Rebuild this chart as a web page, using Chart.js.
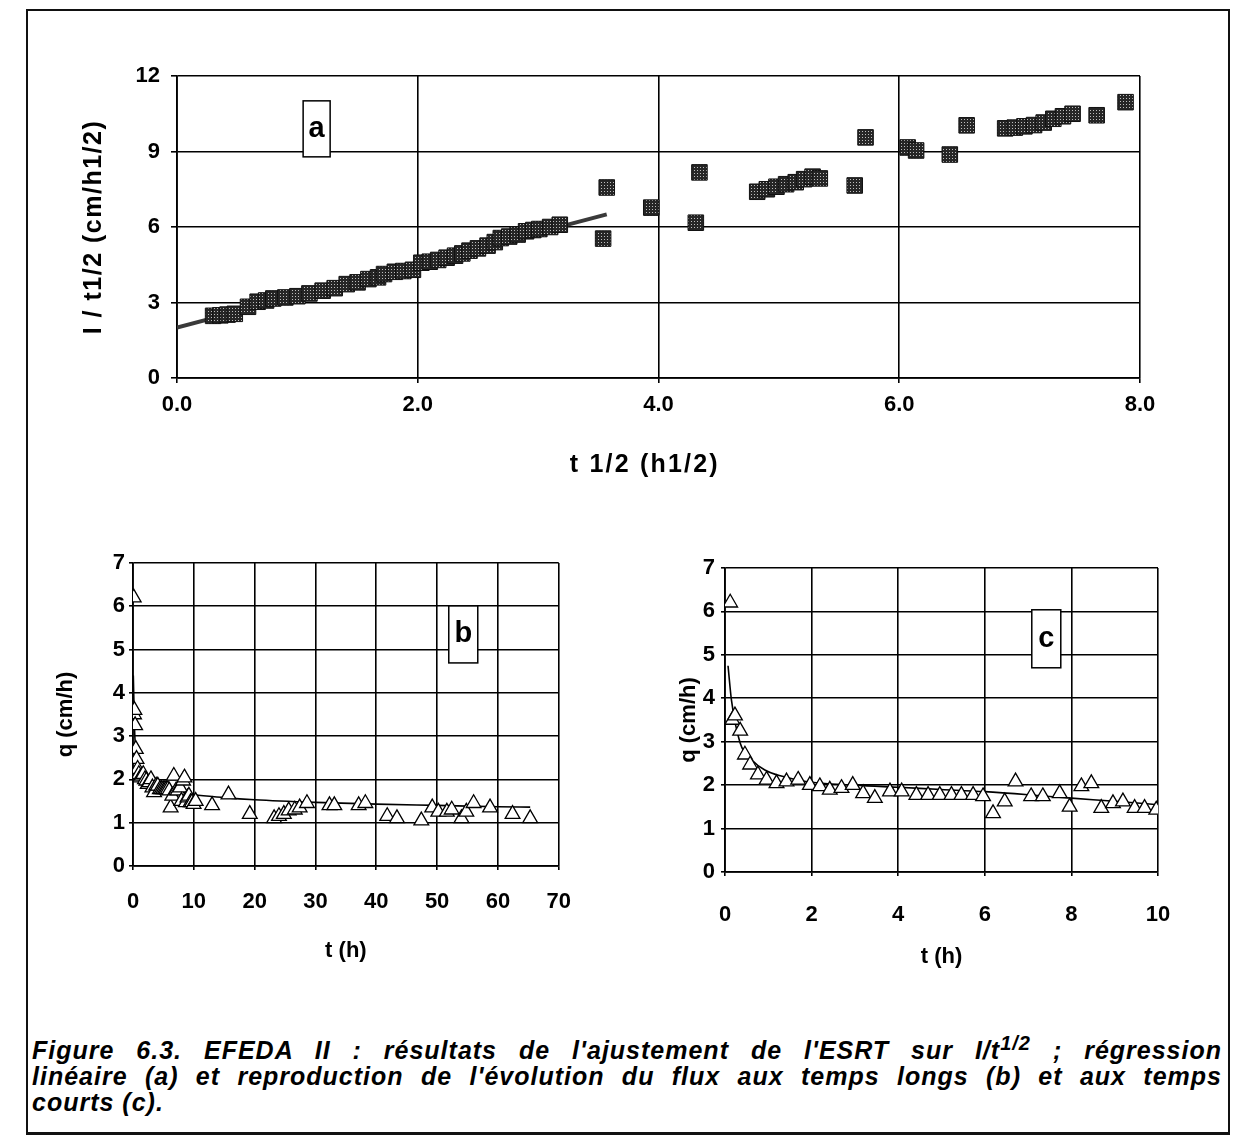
<!DOCTYPE html>
<html>
<head>
<meta charset="utf-8">
<script src="https://cdn.jsdelivr.net/npm/chart.js@4.4.1/dist/chart.umd.min.js"></script>
<style>
  html, body { margin: 0; padding: 0; background: #fff; }
  body { width: 1233px; height: 1141px; position: relative; overflow: hidden; }
  #frame { position: absolute; left: 26px; top: 9px; width: 1204px; height: 1126px;
           box-sizing: border-box; border: 2px solid #111; border-bottom-width: 3px; }
  canvas { position: absolute; }
  #caption { position: absolute; left: 32px; top: 1037px; width: 1190px; color: #000;
             font: italic bold 25px/26px "Liberation Sans", Arial, sans-serif; letter-spacing: 1px; }
  #caption div { white-space: nowrap; }
  #caption .j { text-align: justify; text-align-last: justify; }
  #caption sup { font-size: 20px; line-height: 0; vertical-align: 9px; }
</style>
</head>
<body>
<div id="frame"></div>
<canvas id="chartA" width="1170" height="450" style="left:30px;top:40px"></canvas>
<canvas id="chartB" width="560" height="430" style="left:30px;top:540px"></canvas>
<canvas id="chartC" width="590" height="440" style="left:620px;top:540px"></canvas>
<div id="caption">
  <div class="j">Figure 6.3. EFEDA II : résultats de l'ajustement de l'ESRT sur I/t<sup>1/2</sup> ; régression</div>
  <div class="j">linéaire (a) et reproduction de l'évolution du flux aux temps longs (b) et aux temps</div>
  <div>courts (c).</div>
</div>
<script>
const FONT = '"Liberation Sans", Arial, sans-serif';

// (a) I / t^1/2 against t^1/2
const aT = [0.30, 0.36, 0.42, 0.48, 0.59, 0.67, 0.74, 0.80, 0.90, 1.00, 1.10, 1.21, 1.31, 1.41,
            1.50, 1.59, 1.67, 1.72, 1.81, 1.88, 1.96, 2.03, 2.10, 2.17, 2.24, 2.31, 2.37, 2.43,
            2.50, 2.58, 2.64, 2.69, 2.76, 2.83, 2.90, 2.96, 3.01, 3.10, 3.18,
            3.54, 3.57, 3.94, 4.31, 4.34, 4.82, 4.90, 4.98, 5.06, 5.14, 5.21, 5.28, 5.34,
            5.63, 5.72, 6.07, 6.14, 6.42, 6.56, 6.88, 6.96, 7.04, 7.12, 7.20, 7.28, 7.36, 7.44,
            7.64, 7.88, 8.12];
const aVal = [2.47, 2.49, 2.52, 2.55, 2.83, 3.03, 3.08, 3.16, 3.20, 3.25, 3.36, 3.47, 3.57, 3.73,
              3.80, 3.93, 4.00, 4.13, 4.22, 4.25, 4.30, 4.58, 4.62, 4.69, 4.78, 4.86, 4.95, 5.06,
              5.15, 5.26, 5.40, 5.56, 5.62, 5.70, 5.83, 5.88, 5.92, 6.00, 6.09,
              5.54, 7.57, 6.77, 6.17, 8.17, 7.40, 7.50, 7.60, 7.70, 7.78, 7.90, 8.00, 7.93,
              7.65, 9.56, 9.16, 9.04, 8.88, 10.04, 9.92, 9.95, 10.00, 10.05, 10.15, 10.30, 10.40, 10.50,
              10.44, 10.96, 11.70];
const aFitT = [0, 3.57];
const aFitVal = [2.0, 6.5];
const aXTicks = [0, 2, 4, 6, 8];
const aYTicks = [0, 3, 6, 9, 12];

// (c) first 10 h of flux q, also the start of (b)
const shortT = [0.12, 0.17, 0.23, 0.35, 0.46, 0.58, 0.76, 0.96, 1.19, 1.42, 1.69, 1.96, 2.19, 2.42,
                2.69, 2.95, 3.19, 3.46, 3.81, 4.08, 4.42, 4.69, 4.96, 5.23, 5.46, 5.73, 5.96, 6.19,
                6.46, 6.71, 7.07, 7.34, 7.73, 7.96, 8.23, 8.46, 8.69, 8.96, 9.19, 9.46, 9.69, 9.96];
const shortQ = [6.20, 3.50, 3.60, 3.25, 2.70, 2.47, 2.24, 2.12, 2.04, 2.08, 2.12, 2.00, 1.97, 1.89,
                1.93, 2.00, 1.81, 1.70, 1.85, 1.85, 1.77, 1.77, 1.77, 1.77, 1.77, 1.77, 1.74, 1.35,
                1.62, 2.08, 1.74, 1.74, 1.81, 1.50, 1.97, 2.04, 1.47, 1.58, 1.62, 1.47, 1.47, 1.43];
// (b) later points, t > 10 h
const longT = [10.3, 13.0, 15.7, 19.2, 23.2, 24.0, 24.8, 25.6, 26.6, 27.4, 28.6, 32.3, 33.1, 37.1,
               38.2, 41.8, 43.4, 47.4, 49.2, 50.2, 51.6, 52.4, 54.0, 54.8, 56.0, 58.7, 62.4, 65.3];
const longQ = [1.50, 1.40, 1.65, 1.20, 1.10, 1.15, 1.20, 1.28, 1.30, 1.35, 1.45, 1.40, 1.40, 1.40,
               1.45, 1.15, 1.10, 1.05, 1.35, 1.25, 1.25, 1.30, 1.10, 1.25, 1.45, 1.35, 1.20, 1.10];

const bFitT = [0.05, 0.3, 0.7, 1.5, 3, 5, 7, 10, 15, 20, 30, 40, 50, 60, 65.3];
const bFitQ = [4.40, 3.00, 2.50, 2.15, 1.95, 1.82, 1.75, 1.65, 1.58, 1.53, 1.47, 1.43, 1.40, 1.37, 1.36];
const cFitT = [0.07, 0.15, 0.35, 0.62, 0.92, 1.3, 1.9, 3, 4, 5, 6, 7, 8, 9, 10];
const cFitQ = [4.75, 3.95, 2.97, 2.58, 2.35, 2.21, 2.08, 2.00, 1.95, 1.90, 1.85, 1.78, 1.70, 1.63, 1.55];

const bXTicks = [0, 10, 20, 30, 40, 50, 60, 70];
const cXTicks = [0, 2, 4, 6, 8, 10];
const qYTicks = [0, 1, 2, 3, 4, 5, 6, 7];

function pts(xs, ys) {
  return xs.map((x, i) => ({ x: x, y: ys[i] }));
}

// dark halftone fill like the printed squares
function speckle() {
  const c = document.createElement("canvas");
  c.width = 3; c.height = 3;
  const g = c.getContext("2d");
  g.fillStyle = "#262626"; g.fillRect(0, 0, 3, 3);
  g.fillStyle = "#bdbdbd"; g.fillRect(1, 1, 1, 1);
  return g.createPattern(c, "repeat");
}

const baseDrawTitle = Chart.LinearScale.prototype.drawTitle;

function axis(ticks, o) {
  return {
    type: "linear",
    min: ticks[0],
    max: ticks[ticks.length - 1],
    afterBuildTicks: s => { s.ticks = ticks.map(v => ({ value: v })); },
    afterFit: s => {
      if (s.isHorizontal()) s.height = o.size; else s.width = o.size;
      if (o.spacing) {
        // the scanned titles are set wider than the tick labels
        s.drawTitle = function () {
          this.ctx.save();
          this.ctx.letterSpacing = o.spacing;
          baseDrawTitle.call(this);
          this.ctx.restore();
        };
      }
    },
    grid: { color: "#000", lineWidth: 1.6, tickLength: o.tick, tickColor: "#000" },
    border: { color: "#000", width: 1.8 },
    ticks: {
      color: "#000", padding: o.pad,
      font: { family: FONT, size: 22, weight: "bold" },
      callback: o.fmt || (v => v)
    },
    title: {
      display: true, text: o.title, color: "#000", padding: o.titlePad,
      font: { family: FONT, size: o.titleSize || 22, weight: "bold" }
    }
  };
}

const panelLabel = {
  id: "panelLabel",
  beforeDatasetsDraw(chart, args, opts) {
    const { ctx, scales } = chart;
    const cx = scales.x.getPixelForValue(opts.x);
    const cy = scales.y.getPixelForValue(opts.y);
    ctx.save();
    ctx.fillStyle = "#fff";
    ctx.fillRect(cx - opts.w / 2, cy - opts.h / 2, opts.w, opts.h);
    ctx.strokeStyle = "#000";
    ctx.lineWidth = 1.5;
    ctx.strokeRect(cx - opts.w / 2, cy - opts.h / 2, opts.w, opts.h);
    ctx.fillStyle = "#000";
    ctx.font = "bold 29px " + FONT;
    ctx.textAlign = "center";
    ctx.textBaseline = "middle";
    ctx.fillText(opts.text, cx, cy);
    ctx.restore();
  }
};
Chart.register(panelLabel);

const common = {
  responsive: false,
  animation: false,
  events: [],
  plugins: { legend: { display: false }, tooltip: { enabled: false } }
};

new Chart(document.getElementById("chartA"), {
  type: "scatter",
  data: {
    datasets: [
      {
        data: pts(aT, aVal),
        pointStyle: "rect", pointRadius: 11,
        backgroundColor: speckle(), borderColor: "#111", borderWidth: 1,
        clip: { left: 10, top: 10, right: 10, bottom: 10 },
        order: 0
      },
      {
        data: pts(aFitT, aFitVal),
        showLine: true, pointRadius: 0,
        borderColor: "#3a3a3a", borderWidth: 4,
        order: 1
      }
    ]
  },
  options: Object.assign({}, common, {
    layout: { padding: { left: 0, top: 36, right: 60, bottom: 0 } },
    plugins: Object.assign({}, common.plugins, {
      panelLabel: { x: 1.16, y: 9.9, w: 27, h: 56, text: "a" }
    }),
    scales: {
      x: axis(aXTicks, { size: 112, tick: 5, pad: 9, title: "t 1/2 (h1/2)   ", titleSize: 25,
                         spacing: "2.2px", titlePad: { bottom: 10 }, fmt: v => v.toFixed(1) }),
      y: axis(aYTicks, { size: 147, tick: 6, pad: 11, title: "I / t1/2 (cm/h1/2)", titleSize: 25,
                         spacing: "1.5px", titlePad: { top: 49 } })
    }
  })
});

function fluxChart(id, xs, ys, fitT, fitQ, xTicks, box, geo) {
  return new Chart(document.getElementById(id), {
    type: "scatter",
    data: {
      datasets: [
        {
          data: pts(xs, ys),
          pointStyle: "triangle", pointRadius: 8.5,
          backgroundColor: "#fff", borderColor: "#000", borderWidth: 1.3,
          order: 0
        },
        {
          data: pts(fitT, fitQ),
          showLine: true, pointRadius: 0,
          cubicInterpolationMode: "monotone",
          borderColor: "#000", borderWidth: 1.6,
          order: 1
        }
      ]
    },
    options: Object.assign({}, common, {
      layout: { padding: geo.padding },
      plugins: Object.assign({}, common.plugins, { panelLabel: box }),
      scales: {
        x: axis(xTicks, { size: geo.xSize, tick: 4, pad: geo.xPad, title: "t (h)",
                          titlePad: { bottom: geo.xTitlePad } }),
        y: axis(qYTicks, { size: geo.ySize, tick: 4, pad: geo.yPad, title: "q (cm/h)",
                           titlePad: { top: geo.yTitlePad } })
      }
    })
  });
}

fluxChart("chartB", shortT.concat(longT), shortQ.concat(longQ), bFitT, bFitQ, bXTicks,
  { x: 54.3, y: 5.35, w: 29, h: 57, text: "b" },
  { padding: { left: 0, top: 23, right: 25, bottom: 0 },
    xSize: 104, xPad: 19, xTitlePad: 6, ySize: 103, yPad: 4, yTitlePad: 23 });

fluxChart("chartC", shortT, shortQ, cFitT, cFitQ, cXTicks,
  { x: 7.42, y: 5.37, w: 29, h: 58, text: "c" },
  { padding: { left: 0, top: 28, right: 52, bottom: 0 },
    xSize: 108, xPad: 26, xTitlePad: 10, ySize: 105, yPad: 6, yTitlePad: 56 });
</script>
</body>
</html>
